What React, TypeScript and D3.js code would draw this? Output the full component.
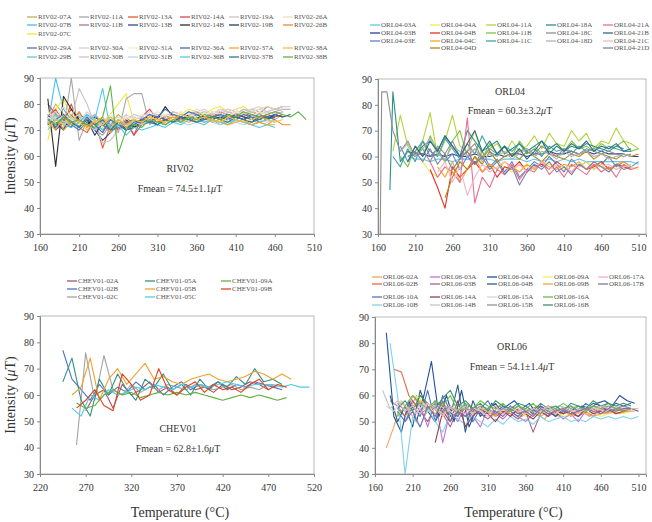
import React, { useEffect, useRef } from 'react';
import * as d3 from 'd3';

type Series = { name: string; color: string; t0: number; v: number[]; head?: [number, number][] };

// thermal steps every 10 °C from t0; head = extra leading points
const riv02: Series[] = [
  { name: 'RIV02-07A', color: '#b8b45a', t0: 170, v: [74,80,76,72,75,73,70,74,72,76,73,71,74,75,73,74,76,75,74,73,75,76,74,75,76,77,75,76,75,74,76] },
  { name: 'RIV02-07B', color: '#3fc3e6', t0: 170, v: [72,90,78,74,71,76,73,70,74,72,70,71,72,73,72,74,73,75,74,73,74,75,74,76,75,74,75,76,74,75] },
  { name: 'RIV02-07C', color: '#f2e63c', t0: 170, v: [66,78,82,75,72,74,70,73,76,80,84,73,72,75,76,74,77,76,78,77,76,78,79,77,78,79,77,78,79,78,79] },
  { name: 'RIV02-11A', color: '#a8a8a8', t0: 170, v: [73,76,70,90,66,74,70,68,72,69,82,84,84,72,75,74,76,75,74,76,75,77,76,75,77,76,78,77,76,77,78,78] },
  { name: 'RIV02-11B', color: '#a57898', t0: 170, v: [74,71,76,73,77,72,70,74,71,73,72,74,73,75,74,76,75,74,76,77,75,76,78,77,76,78,77,76,79,78,79] },
  { name: 'RIV02-13A', color: '#e4592f', t0: 170, v: [75,78,73,80,71,69,74,63,72,70,74,68,72,75,73,74,75,73,76,74,75,76,74,75,76,75,77,76,75,76,77] },
  { name: 'RIV02-13B', color: '#2f4a8c', t0: 170, v: [76,70,73,71,76,74,70,66,69,72,70,71,73,74,72,74,73,75,74,73,75,74,75,74,76,75,74,75,74,76,75,76] },
  { name: 'RIV02-14A', color: '#d9475a', t0: 170, v: [80,76,74,78,73,75,70,72,74,70,73,68,75,78,74,75,76,74,75,76,74,75,77,76,75,76,75,74,76,75,76] },
  { name: 'RIV02-14B', color: '#2d2d2d', t0: 170, v: [82,56,83,78,74,72,75,73,70,72,74,71,73,76,74,79,75,74,76,75,74,75,76,74,75,74,73,75,74,76,75] },
  { name: 'RIV02-19A', color: '#c4c4c4', t0: 170, v: [78,72,76,74,86,80,72,65,66,70,71,75,74,76,75,74,76,75,77,76,75,77,76,78,77,76,77,78,77,76,77] },
  { name: 'RIV02-19B', color: '#1f3f66', t0: 170, v: [75,73,70,76,72,74,68,73,71,74,70,72,74,73,75,74,73,75,74,76,75,74,75,76,75,74,76,75,74,75] },
  { name: 'RIV02-26A', color: '#e8e0c4', t0: 170, v: [77,74,79,75,72,76,74,71,73,75,72,74,76,75,77,76,75,77,76,78,77,76,78,77,78,76,77,78,79,78] },
  { name: 'RIV02-26B', color: '#f28a2e', t0: 170, v: [72,75,70,73,77,71,74,72,69,73,75,72,74,73,75,72,74,73,75,74,73,74,73,72,74,73,72,73,72,74,72,72] },
  { name: 'RIV02-29A', color: '#5572b4', t0: 170, v: [75,71,74,72,70,73,76,72,70,71,73,74,72,73,75,74,73,74,75,73,74,75,76,74,75,74,75,73,74,75] },
  { name: 'RIV02-29B', color: '#66c6c2', t0: 170, v: [73,76,72,74,71,75,73,70,72,74,71,73,72,74,73,72,74,73,75,74,73,74,72,73,74,73,72,73,74,73] },
  { name: 'RIV02-30A', color: '#dccbd2', t0: 170, v: [76,74,72,75,73,77,74,72,75,73,76,74,75,77,76,75,77,76,75,77,78,76,77,78,77,76,78,79,77,78,79,79] },
  { name: 'RIV02-30B', color: '#cbc3cc', t0: 170, v: [74,77,73,75,72,74,76,73,75,72,74,76,75,74,76,75,77,76,75,76,77,76,75,77,76,78,77,76,77,78,78] },
  { name: 'RIV02-31A', color: '#f3f2c2', t0: 170, v: [75,73,76,74,72,75,73,74,76,73,75,74,76,75,74,76,75,77,76,75,76,77,76,75,77,76,75,77,76,77] },
  { name: 'RIV02-31B', color: '#b2d9ea', t0: 170, v: [73,75,72,74,76,72,70,73,71,74,72,73,72,74,73,72,74,73,72,73,74,73,72,74,73,72,73,74,73,74] },
  { name: 'RIV02-36A', color: '#3f6fb4', t0: 170, v: [72,74,76,73,71,75,72,69,74,72,70,73,74,76,75,78,76,75,77,76,74,75,76,75,74,76,75,74,75,76,75] },
  { name: 'RIV02-36B', color: '#4fcbe8', t0: 170, v: [70,74,72,71,73,76,74,86,70,72,68,71,70,71,72,71,73,72,74,73,72,74,73,72,74,73,72,71,72,71] },
  { name: 'RIV02-37A', color: '#f8a52e', t0: 170, v: [73,70,75,72,74,71,73,75,70,74,72,74,73,75,74,73,75,74,73,74,75,73,74,72,73,74,72,73,72,72] },
  { name: 'RIV02-37B', color: '#2f7a92', t0: 170, v: [74,72,75,73,71,74,72,74,70,73,71,72,74,73,72,74,73,75,74,73,74,75,74,73,75,74,73,74,75,74] },
  { name: 'RIV02-38A', color: '#f2c23e', t0: 170, v: [71,74,72,76,73,70,74,72,75,73,71,74,73,75,74,73,74,76,75,74,75,74,73,75,74,73,74,75,74,73,74] },
  { name: 'RIV02-38B', color: '#5fb243', t0: 170, v: [74,72,75,73,74,72,71,75,87,61,70,72,71,74,73,72,74,73,75,74,76,75,74,76,75,77,76,75,76,77,76,75,77,74] },
];

const orl04: Series[] = [
  { name: 'ORL04-03A', color: '#5fc8ea', t0: 200, v: [60,59,59,58,59,59,58,59,59,58,59,59,58,59,59,59,58,59,58,59,58,59,58,59,58,58,58,58,58,58,58,57] },
  { name: 'ORL04-03B', color: '#2c3f92', t0: 200, v: [62,61,61,60,61,60,61,60,60,61,60,60,61,60,61,61,60,61,61,62,61,61,62,61,62,61,62,61,61,61,60,60] },
  { name: 'ORL04-03E', color: '#5f82c8', t0: 190, v: [64,58,62,66,60,63,58,61,55,60,57,62,56,59,54,58,52,55,58,56,60,57,54,59,56,58,55,57,60,56,58,56,58] },
  { name: 'ORL04-04A', color: '#f0ee4c', t0: 220, v: [58,54,52,56,53,58,55,60,57,55,58,56,54,57,56,55,58,57,56,55,57,56,58,55,57,56,55,57,56,55] },
  { name: 'ORL04-04B', color: '#e2321f', t0: 230, v: [55,48,40,56,52,55,58,54,57,52,56,55,58,54,56,57,55,58,56,54,57,55,56,58,55,57,56,55] },
  { name: 'ORL04-04C', color: '#f2a532', t0: 240, v: [56,52,58,50,55,60,54,57,55,58,56,54,57,55,58,56,55,57,56,58,55,57,56,55,57,58,56] },
  { name: 'ORL04-04D', color: '#b5860f', t0: 250, v: [44,52,58,55,60,57,62,58,60,61,59,62,60,58,61,60,59,61,60,62,59,61,60,59,61,60,61] },
  { name: 'ORL04-11A', color: '#b4d43e', t0: 180, v: [62,76,64,60,66,77,60,66,76,64,62,70,60,63,65,61,66,62,64,68,63,69,65,64,70,66,69,63,66,65,71,66,65,63] },
  { name: 'ORL04-11B', color: '#7fc242', t0: 190, v: [60,56,64,60,68,62,58,66,70,60,63,59,65,61,64,60,66,62,64,61,63,65,62,66,63,64,62,65,63,64,66,62,63] },
  { name: 'ORL04-11C', color: '#45a3a6', t0: 180, v: [60,56,63,58,66,62,60,67,63,59,65,61,68,62,60,64,62,65,61,63,60,64,62,63,61,64,62,63,62,64,63,62,62] },
  { name: 'ORL04-18A', color: '#2e9088', t0: 190, head: [[176, 47], [180, 85]], v: [58,62,60,64,66,62,68,64,60,70,66,62,64,66,61,63,65,62,64,66,63,65,62,64,63,65,64,63,62,64,63] },
  { name: 'ORL04-18C', color: '#8e8e8e', t0: 180, head: [[163, 30], [165, 85], [172, 85]], v: [70,62,66,60,63,58,64,61,66,60,62,65,59,63,61,64,60,62,63,61,64,62,60,63,62,61,63,62,61,62,61,60,61] },
  { name: 'ORL04-18D', color: '#b2b2b2', t0: 190, v: [62,65,60,63,67,61,59,64,62,60,63,58,61,60,62,59,61,63,60,62,61,59,62,60,61,62,60,61,59,60,61,60] },
  { name: 'ORL04-21A', color: '#ea6e94', t0: 230, v: [58,52,56,54,50,75,42,52,48,55,53,57,51,55,54,58,53,56,52,57,55,53,57,54,56,52,57,55,56] },
  { name: 'ORL04-21B', color: '#2e6f80', t0: 200, v: [58,64,60,66,62,68,64,60,65,70,62,66,61,64,60,63,59,62,66,61,64,62,65,63,66,62,64,63,65,62,63] },
  { name: 'ORL04-21C', color: '#f2b6c8', t0: 240, v: [54,58,50,56,45,52,57,54,56,58,55,57,54,56,58,55,57,56,54,57,55,58,56,57,55,56,57] },
  { name: 'ORL04-21D', color: '#7f7fa2', t0: 200, v: [60,62,58,63,57,61,55,59,62,57,60,55,58,53,56,49,54,57,55,58,54,56,53,57,55,58,56,54,57,55,56] },
];

const chev01: Series[] = [
  { name: 'CHEV01-02A', color: '#a45564', t0: 270, v: [54,60,62,55,64,60,62,65,61,63,60,64,62,63,61,64,62,63,65,64,62] },
  { name: 'CHEV01-02B', color: '#5272c2', t0: 245, v: [77,66,62,58,64,60,63,61,65,62,64,60,63,65,62,64,63,65,62,64,63,65,64,63,62] },
  { name: 'CHEV01-02C', color: '#a3a3a3', t0: 260, v: [41,76,58,75,62,60,64,61,63,62,64,63,62,64,63,62,63,64,62,63,62,64,63] },
  { name: 'CHEV01-05A', color: '#2f9282', t0: 245, v: [65,74,58,52,66,60,68,62,58,66,63,68,62,64,60,66,62,65,63,67,64,70,65,66,64] },
  { name: 'CHEV01-05B', color: '#f2a12e', t0: 255, v: [60,63,74,58,66,70,64,68,72,66,67,65,64,66,67,68,66,65,66,67,69,68,66,68,66] },
  { name: 'CHEV01-05C', color: '#52cbe2', t0: 255, v: [55,52,60,58,62,60,61,63,62,64,63,62,64,63,64,63,64,65,64,63,64,64,64,63,64,63,63] },
  { name: 'CHEV01-09A', color: '#62b242', t0: 260, v: [57,55,56,60,62,60,61,59,60,61,60,61,60,61,60,59,58,59,60,59,60,59,58,59] },
  { name: 'CHEV01-09B', color: '#e2421f', t0: 260, v: [55,58,62,56,54,68,64,58,60,70,62,60,63,65,61,64,62,63,61,64,66,62,64,63] },
];

const orl06: Series[] = [
  { name: 'ORL06-02A', color: '#f2a162', t0: 175, v: [40,48,58,54,60,52,56,53,55,52,54,56,53,55,52,54,53,55,52,54,53,51,54,52,55,53,54,52,55,53,54,53,54,54] },
  { name: 'ORL06-02B', color: '#e4684a', t0: 185, v: [70,69,60,56,58,54,57,53,55,52,56,54,55,53,56,54,55,53,54,56,55,54,53,55,54,55,56,54,55,54,55,54] },
  { name: 'ORL06-03A', color: '#c272d4', t0: 180, v: [58,56,52,60,56,48,58,42,54,50,56,52,48,55,53,51,54,52,50,53,55,52,54,51,53,50,54,52,55,53,54,55,54] },
  { name: 'ORL06-03B', color: '#a66384', t0: 190, v: [55,52,58,54,50,56,53,48,55,52,54,53,55,52,54,53,51,54,46,53,55,52,54,53,52,54,55,53,54,55,54,55] },
  { name: 'ORL06-04A', color: '#1f4fa2', t0: 175, v: [84,52,46,58,50,60,73,52,60,50,62,48,55,52,57,54,56,58,55,57,53,55,54,56,55,53,56,55,57,58,56,60,58,57] },
  { name: 'ORL06-04B', color: '#2e5e80', t0: 180, v: [60,50,56,48,62,54,50,56,52,64,46,58,52,55,57,53,56,54,55,53,56,54,52,55,54,56,55,57,56,55,57,56,57] },
  { name: 'ORL06-09A', color: '#f2ee5e', t0: 190, v: [58,56,60,59,54,57,52,56,54,55,53,56,54,55,53,54,55,52,54,53,55,54,52,53,54,53,54,52,53,54,53,54] },
  { name: 'ORL06-09B', color: '#f2a542', t0: 200, v: [52,56,58,55,53,57,54,52,56,53,55,54,52,55,53,54,55,53,52,54,53,55,52,54,53,52,53,54,53,54,54] },
  { name: 'ORL06-10A', color: '#5272c2', t0: 190, v: [54,50,56,52,62,50,60,54,52,57,50,55,58,53,56,54,52,55,53,56,54,55,53,56,54,57,55,56,54,55,56,55] },
  { name: 'ORL06-10B', color: '#7fd2ea', t0: 180, v: [80,60,30,52,48,55,50,46,53,51,49,52,50,48,51,49,52,50,51,49,52,50,51,52,50,51,50,52,51,52,51,52,51,52] },
  { name: 'ORL06-14A', color: '#924252', t0: 240, v: [42,54,50,58,48,52,55,53,50,54,52,55,53,51,54,52,55,53,54,52,55,53,54,55,53,54,55,54] },
  { name: 'ORL06-14B', color: '#c4c4c4', t0: 170, v: [62,55,58,56,52,57,54,56,53,55,54,56,53,55,54,53,55,54,56,53,55,54,53,55,54,56,55,54,55,56,55,54,55,55,55] },
  { name: 'ORL06-15A', color: '#d6d6d6', t0: 175, v: [56,54,58,55,53,57,54,56,55,53,56,54,55,53,56,54,55,56,54,55,53,55,54,56,55,54,55,56,55,54,55,56,55,54] },
  { name: 'ORL06-15B', color: '#929292', t0: 190, v: [57,54,56,53,55,57,54,56,53,55,54,56,55,53,55,54,56,54,55,53,56,54,55,56,54,55,56,55,56,55,56,55] },
  { name: 'ORL06-16A', color: '#62c242', t0: 190, v: [52,56,60,57,55,58,56,60,54,57,55,58,56,55,57,54,56,55,57,54,56,55,57,55,56,54,56,55,57,55,54,55] },
  { name: 'ORL06-16B', color: '#3f9272', t0: 190, v: [55,58,54,60,57,55,59,62,56,58,55,57,54,58,56,55,57,56,54,57,55,56,54,57,56,55,58,56,57,56,57,56] },
  { name: 'ORL06-17A', color: '#f2b2c2', t0: 190, v: [58,54,56,53,57,55,52,56,54,53,55,54,52,56,53,55,54,53,55,54,56,53,55,54,53,55,54,56,55,54,55,54] },
  { name: 'ORL06-17B', color: '#8272a4', t0: 200, v: [50,54,48,56,52,58,50,54,52,55,53,51,54,52,55,53,54,52,55,53,54,55,53,54,55,54,53,55,54,55,55] },
];

const yTicks = [30, 40, 50, 60, 70, 80, 90];
const xTicksA = [160, 210, 260, 310, 360, 410, 460, 510];
const xTicksB = [220, 270, 320, 370, 420, 470, 520];

// legend grids (names without site prefix)
const rivLegend = [
  ['07A', '11A', '13A', '14A', '19A', '26A'],
  ['07B', '11B', '13B', '14B', '19B', '26B'],
  ['07C'],
  ['29A', '30A', '31A', '36A', '37A', '38A'],
  ['29B', '30B', '31B', '36B', '37B', '38B'],
];
const orl04Legend = [
  ['03A', '04A', '11A', '18A', '21A'],
  ['03B', '04B', '11B', '18C', '21B'],
  ['03E', '04C', '11C', '18D', '21C'],
  ['', '04D', '', '', '21D'],
];
const chevLegend = [
  ['02A', '05A', '09A'],
  ['02B', '05B', '09B'],
  ['02C', '05C'],
];
const orl06Legend = [
  ['02A', '03A', '04A', '09A', '17A'],
  ['02B', '03B', '04B', '09B', '17B'],
  ['10A', '14A', '15A', '16A'],
  ['10B', '14B', '15B', '16B'],
];

const panels = [
  { id: 'riv', site: 'RIV02', fmean: '74.5±1.1', series: riv02, xd: [160, 510], xt: xTicksA, x0: 40, x1: 314, y0: 78, y1: 234,
    lx: 180, ly: 172, fy: 192, legend: rivLegend, lcols: [27, 79, 128, 180, 229, 283], lrows: [17, 25, 34, 48, 57], yTitle: true, xTitle: false },
  { id: 'o4', site: 'ORL04', fmean: '60.3±3.2', series: orl04, xd: [160, 520], xt: xTicksA, x0: 378, x1: 646, y0: 79, y1: 234,
    lx: 510, ly: 95, fy: 114, legend: orl04Legend, lcols: [370, 430, 486, 546, 603], lrows: [25, 33, 41, 48], yTitle: false, xTitle: false },
  { id: 'ch', site: 'CHEV01', fmean: '62.8±1.6', series: chev01, xd: [220, 520], xt: xTicksB, x0: 40, x1: 314, y0: 316, y1: 474,
    lx: 178, ly: 432, fy: 452, legend: chevLegend, lcols: [67, 145, 221], lrows: [281, 289, 297], yTitle: true, xTitle: true },
  { id: 'o6', site: 'ORL06', fmean: '54.1±1.4', series: orl06, xd: [160, 520], xt: xTicksA, x0: 375, x1: 646, y0: 317, y1: 474,
    lx: 512, ly: 350, fy: 370, legend: orl06Legend, lcols: [372, 430, 487, 543, 598], lrows: [277, 284, 297, 305], yTitle: false, xTitle: true },
];

const FONT = "'Liberation Serif', 'DejaVu Serif', serif";

const App = () => {
  const ref = useRef<SVGSVGElement>(null);

  useEffect(() => {
    const svg = d3.select(ref.current);
    svg.selectAll('*').remove();

    panels.forEach((p) => {
      const x = d3.scaleLinear().domain(p.xd).range([p.x0, p.x1]);
      const y = d3.scaleLinear().domain([30, 90]).range([p.y1, p.y0]);
      const g = svg.append('g');

      g.append('clipPath').attr('id', 'clip-' + p.id)
        .append('rect').attr('x', p.x0).attr('y', p.y0).attr('width', p.x1 - p.x0).attr('height', p.y1 - p.y0);

      // frame
      g.append('rect').attr('x', p.x0).attr('y', p.y0).attr('width', p.x1 - p.x0).attr('height', p.y1 - p.y0)
        .attr('fill', 'none').attr('stroke', '#a8a8a8').attr('stroke-width', 0.8);

      const line = d3.line<[number, number]>().x((d) => x(d[0])).y((d) => y(d[1]));
      const lines = g.append('g').attr('clip-path', 'url(#clip-' + p.id + ')');
      p.series.forEach((s) => {
        const pts: [number, number][] = [...(s.head || []), ...s.v.map((v, i) => [s.t0 + i * 10, v] as [number, number])];
        lines.append('path').datum(pts).attr('d', line).attr('fill', 'none')
          .attr('stroke', s.color).attr('stroke-width', 1.1).attr('stroke-linejoin', 'round');
      });

      const ax = g.append('g').attr('transform', `translate(0,${p.y1})`)
        .call(d3.axisBottom(x).tickValues(p.xt).tickSize(3).tickFormat(d3.format('d')));
      const ay = g.append('g').attr('transform', `translate(${p.x0},0)`)
        .call(d3.axisLeft(y).tickValues(yTicks).tickSize(3).tickFormat(d3.format('d')));
      [ax, ay].forEach((a) => {
        a.select('.domain').attr('stroke', '#888');
        a.selectAll('line').attr('stroke', '#888');
        a.selectAll('text').attr('fill', '#333').style('font-family', FONT).style('font-size', '10px');
      });
      ax.selectAll('text').attr('dy', '1.05em');
      ay.selectAll('text').attr('x', -6);

      // site label
      g.append('text').attr('x', p.lx).attr('y', p.ly).attr('text-anchor', 'middle')
        .style('font-family', FONT).style('font-size', '10px').attr('fill', '#333').text(p.site);
      const ft = g.append('text').attr('x', p.lx).attr('y', p.fy).attr('text-anchor', 'middle')
        .style('font-family', FONT).style('font-size', '10px').attr('fill', '#333');
      ft.append('tspan').text('Fmean = ' + p.fmean);
      ft.append('tspan').style('font-style', 'italic').text('μ');
      ft.append('tspan').text('T');

      // legend
      const prefix = p.site + '-';
      p.legend.forEach((row, ri) => {
        row.forEach((code, ci) => {
          if (!code) return;
          const s = p.series.find((d) => d.name === prefix + code);
          if (!s) return;
          const lx = p.lcols[ci];
          const ly = p.lrows[ri];
          g.append('line').attr('x1', lx).attr('x2', lx + 10).attr('y1', ly).attr('y2', ly)
            .attr('stroke', s.color).attr('stroke-width', 1.3);
          g.append('text').attr('x', lx + 11).attr('y', ly + 2.4)
            .style('font-family', FONT).style('font-size', '7px').attr('fill', '#555').text(s.name);
        });
      });

      if (p.yTitle) {
        const cy = (p.y0 + p.y1) / 2;
        const t = g.append('text').attr('transform', `translate(15,${cy}) rotate(-90)`).attr('text-anchor', 'middle')
          .style('font-family', FONT).style('font-size', '14px').attr('fill', '#333');
        t.append('tspan').text('Intensity (');
        t.append('tspan').style('font-style', 'italic').text('μ');
        t.append('tspan').text('T)');
      }
      if (p.xTitle) {
        g.append('text').attr('x', (p.x0 + p.x1) / 2 + 3).attr('y', 517).attr('text-anchor', 'middle')
          .style('font-family', FONT).style('font-size', '14px').attr('fill', '#333').text('Temperature (°C)');
      }
    });
  }, []);

  return (
    <svg ref={ref} width={652} height={522}
      style={{ position: 'absolute', left: 0, top: 0, background: '#fff' }} />
  );
};

export default App;
